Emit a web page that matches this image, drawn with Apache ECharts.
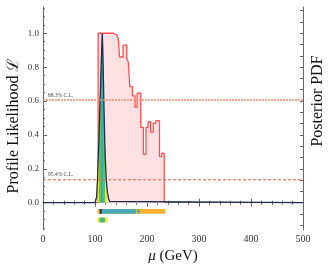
<!DOCTYPE html>
<html><head><meta charset="utf-8">
<script src="https://cdn.jsdelivr.net/npm/echarts@6/dist/echarts.min.js"></script>
<style>html,body{margin:0;padding:0;background:#fff}#c{width:330px;height:264px}</style>
</head><body><div id="c"></div><script>
// ---- data ----
const xTickValues = [0, 100, 200, 300, 400, 500];
const yTickLabels = [0.0, 0.2, 0.4, 0.6, 0.8, 1.0];
// profile likelihood step histogram (bin edges in GeV, value per bin)
const plEdges = [106, 135, 142, 145, 147, 154, 161, 164, 167, 172, 177, 181, 188, 193, 198, 202, 207, 212, 217, 224, 228, 233];
const plValues = [1.0, 0.99, 0.98, 0.96, 0.86, 0.93, 0.85, 0.83, 0.685, 0.63, 0.563, 0.646, 0.445, 0.286, 0.445, 0.478, 0.417, 0.469, 0.484, 0.272, 0.292];
// posterior pdf (normalised to peak)
const pdfMass = [0, 100, 103, 105, 107, 109, 111, 113, 114, 115, 116, 117, 118, 119, 120, 121, 122, 124, 126, 128, 131, 500];
const pdfValue = [0, 0, 0.03, 0.15, 0.33, 0.52, 0.72, 0.92, 1.0, 0.9, 0.76, 0.6, 0.46, 0.34, 0.25, 0.18, 0.12, 0.06, 0.025, 0.008, 0, 0];
// confidence levels
const clLevels = [0.6065, 0.1353];
const clLabels = ['68.3% C.L.', '95.4% C.L.'];
const xRange = [0, 500];
// profile likelihood intervals (row 1)
const pl95 = [[105, 235]];
const pl68 = [[111, 179], [182, 186]];
const plBestFit = 111;
// posterior credible intervals (row 2)
const post99 = [105, 124];
const post95 = [108.5, 119.5];
const post68 = [111.5, 116];

// ---- styles ----
const C = {teal:'#4aa8b0', orange:'#f7b032', navy:'#1c2d4f', yellow:'#f2e234', green:'#5cc25a', fillTeal:'#36b0aa'};
const serif = "'Liberation Serif', 'DejaVu Serif', serif";

const plData = [[plEdges[0], 0]];
plValues.forEach((v, i) => { plData.push([plEdges[i], v]); plData.push([plEdges[i + 1], v]); });
plData.push([plEdges[plEdges.length - 1], 0]);

const pdfData = pdfMass.map((m, i) => [m, pdfValue[i]]);

const bandData = [];
pl95.forEach(r => bandData.push([r[0], r[1], 0, 0]));
pl68.forEach(r => bandData.push([r[0], r[1], 0, 1]));
bandData.push([plBestFit - 2, plBestFit + 2, 0, 2]);
bandData.push([post99[0], post99[1], 1, 3]);
bandData.push([post95[0], post95[1], 1, 4]);
bandData.push([post68[0], post68[1], 1, 1]);
const kindColor = [C.orange, C.teal, C.navy, C.yellow, C.green];
const rowY = [-0.051, -0.102];

const majorY = [];
for (let v = 0; v <= 1.0001; v += 0.2) majorY.push(+v.toFixed(2));
const minorY = [];
for (let k = -3; k <= 23; k++) { const v = +(k * 0.05).toFixed(2); if (k % 4 !== 0) minorY.push(v); }
const rightY = [];
for (let k = -2; k <= 17; k++) rightY.push(+(k / 15).toFixed(4));

const yMin = -0.161, yMax = 1.155;
const axisCol = '#666';
const clStyles = [
  {type: [2, 1], color: '#f28a68', width: 1.4},
  {type: [3, 2], color: '#f55a30', width: 1.0}
];

function clSeries(i) {
  return {type: 'line', data: xRange.map(x => [x, clLevels[i]]), symbol: 'none', silent: true, z: 5,
    lineStyle: clStyles[i],
    markLine: {silent: true, symbol: ['none', 'none'], animation: false,
      lineStyle: {color: 'rgba(255,255,255,0)', width: 0},
      label: {show: true, position: 'insideStartTop', formatter: clLabels[i], fontFamily: serif, fontSize: 5.5, color: '#444', distance: [5, 1]},
      data: [{yAxis: clLevels[i]}]}};
}

const chart = echarts.init(document.getElementById('c'));
chart.setOption({
  animation: false,
  grid: {left: 43, right: 27, top: 7, bottom: 34, containLabel: false, outerBoundsMode: 'none'},
  xAxis: [
    {type: 'value', position: 'bottom', min: 0, max: 500, interval: 100,
     axisLine: {lineStyle: {color: axisCol, width: 1}},
     axisTick: {inside: true, length: 4, lineStyle: {color: axisCol}},
     minorTick: {show: true, splitNumber: 5, length: 2, lineStyle: {color: axisCol}},
     splitLine: {show: false},
     axisLabel: {color: '#333', fontFamily: serif, fontSize: 10, margin: 4},
     name: '{i|μ} (GeV)', nameLocation: 'middle', nameGap: 12,
     nameTextStyle: {fontFamily: serif, fontSize: 15, color: '#111', rich: {i: {fontFamily: serif, fontStyle: 'italic', fontSize: 15, color: '#111'}}}},
    {type: 'value', position: 'top', min: 0, max: 500, interval: 100,
     axisLine: {lineStyle: {color: axisCol, width: 1}},
     axisTick: {inside: true, length: 4, lineStyle: {color: axisCol}},
     minorTick: {show: true, splitNumber: 5, length: 2, lineStyle: {color: axisCol}},
     splitLine: {show: false}, axisLabel: {show: false}}
  ],
  yAxis: [
    {type: 'value', position: 'left', min: yMin, max: yMax,
     axisLine: {show: true, lineStyle: {color: axisCol, width: 1}},
     axisTick: {show: true, inside: true, length: 4, customValues: majorY, lineStyle: {color: axisCol}},
     axisLabel: {customValues: majorY, formatter: v => v.toFixed(1), color: '#333', fontFamily: serif, fontSize: 9, margin: 4},
     splitLine: {show: false}},
    {type: 'value', position: 'left', min: yMin, max: yMax,
     axisLine: {show: false},
     axisTick: {show: true, inside: true, length: 2, customValues: minorY, lineStyle: {color: axisCol}},
     axisLabel: {show: false}, splitLine: {show: false}},
    {type: 'value', position: 'right', min: yMin, max: yMax,
     axisLine: {show: true, lineStyle: {color: axisCol, width: 1}},
     axisTick: {show: true, inside: true, length: 3, customValues: rightY, lineStyle: {color: axisCol}},
     axisLabel: {show: false}, splitLine: {show: false}}
  ],
  graphic: [
    {type: 'text', x: 14, y: 126, rotation: Math.PI / 2,
     style: {text: 'Profile Likelihood ℒ', font: "16px 'Liberation Serif', serif", fill: '#111', textAlign: 'center', textVerticalAlign: 'middle'}},
    {type: 'text', x: 318, y: 101, rotation: Math.PI / 2,
     style: {text: 'Posterior PDF', font: "16px 'Liberation Serif', serif", fill: '#111', textAlign: 'center', textVerticalAlign: 'middle'}}
  ],
  visualMap: {show: false, type: 'piecewise', dimension: 0, seriesIndex: 1,
    pieces: [
      {lt: post99[0], color: 'rgba(255,255,255,0)'},
      {gte: post99[0], lt: post95[0], color: C.yellow},
      {gte: post95[0], lt: post68[0], color: C.green},
      {gte: post68[0], lt: post68[1], color: C.fillTeal},
      {gte: post68[1], lt: post95[1], color: C.green},
      {gte: post95[1], lt: post99[1], color: C.yellow},
      {gte: post99[1], color: 'rgba(255,255,255,0)'}
    ]},
  series: [
    {type: 'line', data: plData, symbol: 'none', lineStyle: {color: '#ff4f4f', width: 1.3},
     areaStyle: {color: '#ffe1e4', opacity: 1}, z: 1},
    {type: 'line', data: pdfData, symbol: 'none', lineStyle: {width: 0}, areaStyle: {opacity: 1}, z: 2},
    {type: 'line', data: pdfData, symbol: 'none', lineStyle: {color: C.navy, width: 1.3}, z: 3},
    {type: 'custom', data: bandData, clip: false, z: 4,
     renderItem: (params, api) => {
       const y = rowY[api.value(2)];
       const s = api.coord([api.value(0), y]);
       const e = api.coord([api.value(1), y]);
       const h = 4.7;
       return {type: 'rect', shape: {x: s[0], y: s[1] - h / 2, width: e[0] - s[0], height: h},
               style: {fill: kindColor[api.value(3)]}};
     }},
    clSeries(0),
    clSeries(1)
  ]
});
</script></body></html>
